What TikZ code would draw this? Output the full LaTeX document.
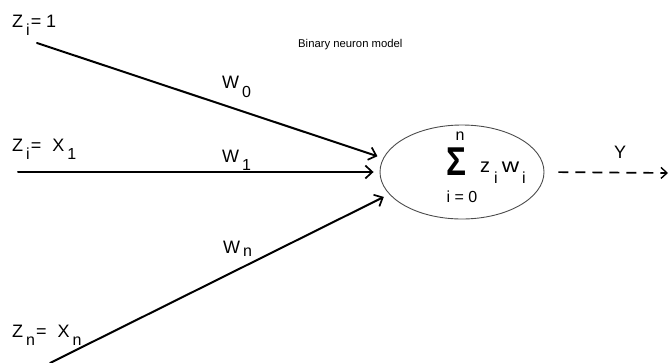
\documentclass[tikz,border=0pt]{standalone}
\usepackage{fontspec}
\setmainfont{Liberation Sans}
\usetikzlibrary{arrows.meta,shapes.geometric}
\tikzset{
  every picture/.style={line join=round, line cap=round},
  wire/.style={line width=2pt, shorten >=6pt,
    -{Straight Barb[length=7pt,width=13pt,line width=1.7pt]}},
  outwire/.style={line width=1.7pt, dash pattern=on 10pt off 7pt, line cap=butt,
    -{Straight Barb[length=6pt,width=11pt,line width=1.4pt]}},
  lbl/.style={inner sep=0pt, anchor=base west, font=\fontsize{18}{20}\selectfont},
  small/.style={inner sep=0pt, font=\fontsize{16}{18}\selectfont},
}
\newcommand{\lowsub}[2][8pt]{\raisebox{-#1}{\fontsize{16}{16}\selectfont #2}}

\begin{document}
\begin{tikzpicture}[x=1pt,y=-1pt]
\useasboundingbox (0,0) rectangle (671,362);
% cell body
\node[ellipse, draw=black!70, line width=0.9pt, minimum width=164pt,
  minimum height=94pt, inner sep=0pt] (cell) at (462,172) {};
\node[small] (top) at (460,136) {n};
\node[inner sep=0pt, font=\fontsize{35}{35}\selectfont\bfseries]
  (sigma) at (456,162) {\scalebox{0.95}[1.15]{Σ}};
\node[small] (bot) at (462,197) {i = 0};
\node[inner sep=0pt, anchor=base west, font=\fontsize{20}{22}\selectfont] (prod)
  at (480,172) {z\kern4pt\lowsub[11pt]{i}\kern4pt\scalebox{1.2}[1]{w}\kern3pt\lowsub[11pt]{i}};
\node[inner sep=0pt, anchor=base west, font=\fontsize{11.3}{13}\selectfont] (title)
  at (298,47) {Binary neuron model};
% inputs
\coordinate (in0) at (37,43);
\coordinate (in1) at (18,172);
\coordinate (inn) at (50,363);
\node[lbl] (z0) at (12,27) {Z\kern3pt\lowsub{i}\kern1pt= 1};
\node[lbl] (z1) at (12,151) {Z\kern3pt\lowsub{i}\kern1pt=\kern11pt X\kern3pt\lowsub{1}};
\node[lbl] (zn) at (12,337) {Z\kern3pt\lowsub{n}\kern1pt=\kern11pt X\kern3pt\lowsub{n}};
\node[lbl] (w0) at (222,88) {W\kern3pt\lowsub[9pt]{0}};
\node[lbl] (w1) at (222,162) {W\kern3pt\lowsub[8pt]{1}};
\node[lbl] (wn) at (223,253) {W\kern3pt\lowsub[3pt]{n}};
\draw[wire] (in0) -- (cell.170);
\draw[wire] (in1) -- (cell.180);
\draw[wire] (inn) -- (cell.197);
% output
\coordinate (out) at (668,173);
\node[lbl, anchor=base] (y) at (620,158) {Y};
\draw[outwire, shorten <=14pt] (cell.east) -- (out);
\end{tikzpicture}
\end{document}
